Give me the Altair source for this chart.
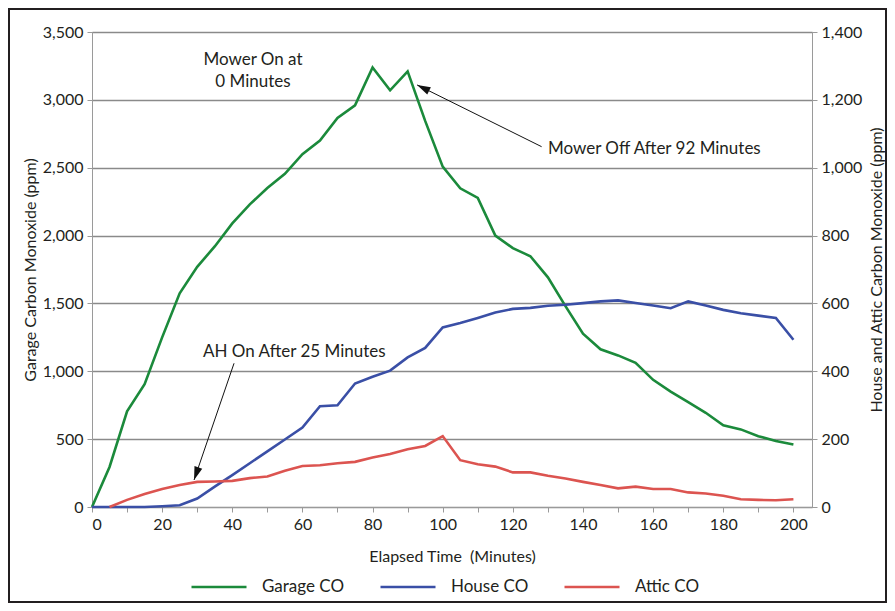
import altair as alt
import pandas as pd

# ---- data ----
minutes = list(range(0, 201, 5))
garage_co = [0, 295, 705, 905, 1250, 1575, 1770, 1920, 2090, 2230, 2350, 2455, 2600, 2700,
             2866, 2960, 3238, 3070, 3210, 2845, 2508, 2348, 2278, 2000, 1908, 1848, 1692,
             1480, 1277, 1162, 1117, 1062, 937, 850, 772, 694, 602, 572, 522, 487, 460]
house_co = [0, 0, 0, 0, 2, 5, 25, 60, 94, 129, 164, 199, 234, 297, 300, 364, 384, 402,
            441, 469, 529, 542, 557, 573, 584, 587, 593, 596, 601, 606, 609, 601, 594, 586,
            606, 594, 581, 571, 564, 557, 493]
attic_minutes = list(range(5, 201, 5))
attic_co = [0, 21, 38, 53, 65, 74, 75, 77, 85, 90, 107, 121, 123, 129, 133, 146, 156, 170,
            180, 209, 138, 126, 119, 102, 102, 92, 84, 74, 65, 55, 60, 53, 53, 43, 40, 33,
            23, 21, 20, 23]

series_names = ["Garage CO", "House CO", "Attic CO"]
series_colors = ["#1b8a3b", "#3a4fa6", "#dc5450"]

left_ticks = list(range(0, 3501, 500))
right_ticks = list(range(0, 1401, 200))
x_ticks = list(range(0, 201, 10))

# annotations (data coordinates)
note_center_t = [45.9, 45.9]
note_center_v = [3294, 3132]
note_center_txt = ["Mower On at", "0 Minutes"]
note_left_t = [130.0, 31.65]
note_left_v = [2638, 1142]
note_left_txt = ["Mower Off After 92 Minutes", "AH On After 25 Minutes"]
arrow_tail_t = [128.2, 40.5]
arrow_tail_v = [2655, 1059]
arrow_tip_t = [92.7, 29.1]
arrow_tip_v = [3110, 199]
arrow_angle = [296.3, 198.9]

FONT = "Lato"
TXT = "#231f20"
GRID = "#8a8a8a"

df_g = pd.DataFrame({"t": minutes, "v": garage_co, "s": "Garage CO"})
df_r = pd.concat([
    pd.DataFrame({"t": minutes, "v": house_co, "s": "House CO"}),
    pd.DataFrame({"t": attic_minutes, "v": attic_co, "s": "Attic CO"}),
])
df_nc = pd.DataFrame({"t": note_center_t, "v": note_center_v, "txt": note_center_txt})
df_nl = pd.DataFrame({"t": note_left_t, "v": note_left_v, "txt": note_left_txt})
df_ar = pd.DataFrame({"t": arrow_tail_t, "v": arrow_tail_v, "t2": arrow_tip_t, "v2": arrow_tip_v})
df_hd = pd.DataFrame({"t": arrow_tip_t, "v": arrow_tip_v, "ang": arrow_angle})
df_box = pd.DataFrame({"k": [0]})

xs = alt.Scale(domain=[0, 205.3], nice=False, zero=False)
yls = alt.Scale(domain=[0, 3500], nice=False)
yrs = alt.Scale(domain=[0, 1400], nice=False)

x_axis = alt.Axis(values=x_ticks, labelExpr="datum.value % 20 == 0 ? datum.label : ''",
                  title="Elapsed Time\u00a0\u00a0(Minutes)", grid=False, titlePadding=16)
left_axis = alt.Axis(values=left_ticks, format=",d", grid=True,
                     title="Garage Carbon Monoxide (ppm)", titlePadding=4)
x_enc = alt.X("t:Q", scale=xs, axis=x_axis)
yl_enc = alt.Y("v:Q", scale=yls, axis=left_axis)

color_enc = alt.Color("s:N", scale=alt.Scale(domain=series_names, range=series_colors),
                      legend=alt.Legend(title=None, orient="none", direction="horizontal",
                                        legendX=98, legendY=526, symbolType="stroke",
                                        symbolSize=3025, symbolStrokeWidth=3,
                                        labelFontSize=17, labelOffset=14, columnPadding=30,
                                        labelFont=FONT, labelColor=TXT))

garage = alt.Chart(df_g).mark_line(strokeWidth=2.6).encode(x=x_enc, y=yl_enc, color=color_enc)
notes_c = alt.Chart(df_nc).mark_text(align="center", baseline="middle", fontSize=17,
                                     font=FONT, color=TXT).encode(
    x=x_enc, y=yl_enc, text="txt:N")
notes_l = alt.Chart(df_nl).mark_text(align="left", baseline="middle", fontSize=17,
                                     font=FONT, color=TXT).encode(
    x=x_enc, y=yl_enc, text="txt:N")
arrows = alt.Chart(df_ar).mark_rule(color="#111111", strokeWidth=1).encode(
    x=x_enc, y=yl_enc, x2="t2:Q", y2="v2:Q")
heads = alt.Chart(df_hd).mark_point(shape="M0,0L-0.4,1.3L0.4,1.3Z", size=420, filled=True,
                                    color="#111111", opacity=1).encode(
    x=x_enc, y=yl_enc, angle=alt.Angle("ang:Q", scale=None))
box = alt.Chart(df_box).mark_rect(filled=False, stroke=TXT, strokeWidth=2).encode(
    x=alt.value(-83), x2=alt.value(794), y=alt.value(-23), y2=alt.value(570))

left = alt.layer(garage, notes_c, notes_l, arrows, heads, box)

right = alt.Chart(df_r).mark_line().encode(
    x=x_enc,
    y=alt.Y("v:Q", scale=yrs, axis=alt.Axis(orient="right", values=right_ticks, format=",d",
                                             grid=False, titleAngle=270,
                                             title="House and Attic Carbon Monoxide (ppm)",
                                             titlePadding=23)),
    color=color_enc,
    strokeWidth=alt.StrokeWidth("s:N", scale=alt.Scale(domain=series_names,
                                                        range=[2.6, 2.6, 1.7]), legend=None),
)

chart = alt.layer(left, right).resolve_scale(y="independent").properties(
    width=720, height=475,
    padding={"left": 84, "top": 24, "right": 75, "bottom": 96},
    autosize=alt.AutoSizeParams(type="none"),
).configure(font=FONT, background="white").configure_view(
    stroke="#9a9a9a", strokeWidth=1
).configure_axis(
    labelFont=FONT, titleFont=FONT, labelFontSize=16, titleFontSize=16,
    labelColor=TXT, titleColor=TXT, titleFontWeight="normal",
    domainColor="#9a9a9a", tickColor="#9a9a9a", tickSize=5,
    gridColor=GRID, gridWidth=1.3, labelPadding=4,
)

chart.save("out.html", embed_options={"renderer": "svg", "actions": False})
